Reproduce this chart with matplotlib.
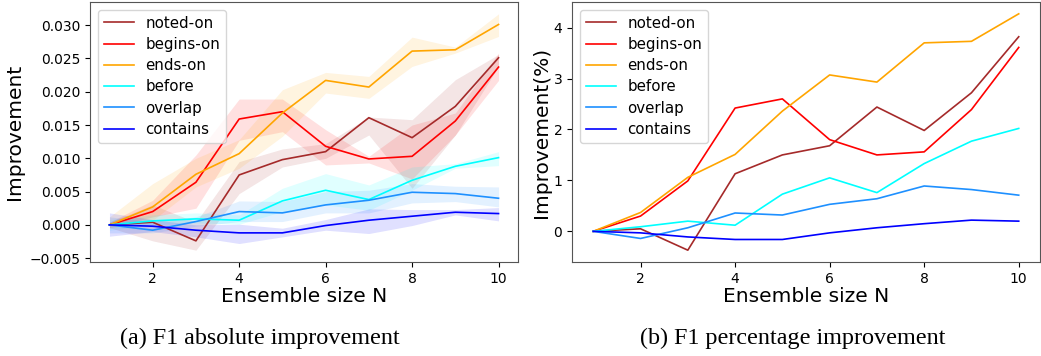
import numpy as np
import matplotlib
matplotlib.use('Agg')
import matplotlib.pyplot as plt

####################
# Data

N = [1, 2, 3, 4, 5, 6, 7, 8, 9, 10]
labels = ['noted-on', 'begins-on', 'ends-on', 'before', 'overlap', 'contains']
colors = ['brown', 'red', 'orange', 'cyan', 'dodgerblue', 'blue']

# (a) absolute improvement: mean, lower, upper
noted_abs    = [0, 0.0004, -0.0024, 0.0075, 0.0098, 0.0110, 0.0161, 0.0131, 0.0178, 0.0251]
noted_lo     = [-0.0004, -0.0024, -0.0038, 0.0047, 0.0087, 0.0100, 0.0135, 0.0055, 0.0135, 0.0238]
noted_hi     = [0.0004, 0.0030, 0.0004, 0.0095, 0.0114, 0.0122, 0.0162, 0.0158, 0.0218, 0.0256]

begins_abs   = [0, 0.0020, 0.0064, 0.0159, 0.0170, 0.0118, 0.0099, 0.0103, 0.0156, 0.0237]
begins_lo    = [-0.0004, 0.0012, 0.0025, 0.0127, 0.0140, 0.0090, 0.0093, 0.0069, 0.0135, 0.0217]
begins_hi    = [0.0004, 0.0037, 0.0105, 0.0189, 0.0189, 0.0143, 0.0103, 0.0150, 0.0168, 0.0258]

ends_abs     = [0, 0.0027, 0.0076, 0.0107, 0.0168, 0.0217, 0.0207, 0.0261, 0.0263, 0.0301]
ends_lo      = [-0.0005, 0.0007, 0.0057, 0.0085, 0.0133, 0.0198, 0.0190, 0.0238, 0.0258, 0.0283]
ends_hi      = [0.0012, 0.0062, 0.0100, 0.0128, 0.0203, 0.0229, 0.0223, 0.0282, 0.0267, 0.0317]

before_abs   = [0, 0.0006, 0.0009, 0.0007, 0.0036, 0.0052, 0.0038, 0.0067, 0.0088, 0.0101]
before_lo    = [-0.0008, 0.0000, 0.0003, 0.0001, 0.0020, 0.0030, 0.0022, 0.0052, 0.0085, 0.0089]
before_hi    = [0.0008, 0.0015, 0.0018, 0.0015, 0.0055, 0.0077, 0.0060, 0.0087, 0.0092, 0.0110]

overlap_abs  = [0, -0.0008, 0.0005, 0.0020, 0.0018, 0.0030, 0.0037, 0.0049, 0.0047, 0.0040]
overlap_lo   = [-0.0012, -0.0012, -0.0002, 0.0005, 0.0005, 0.0018, 0.0018, 0.0033, 0.0035, 0.0027]
overlap_hi   = [0.0012, 0.0005, 0.0012, 0.0036, 0.0035, 0.0050, 0.0052, 0.0062, 0.0058, 0.0057]

contains_abs = [0, -0.0002, -0.0008, -0.0012, -0.0012, -0.0001, 0.0007, 0.0013, 0.0019, 0.0017]
contains_lo  = [-0.0017, -0.0010, -0.0018, -0.0028, -0.0018, -0.0008, -0.0013, -0.0001, 0.0015, 0.0006]
contains_hi  = [0.0018, 0.0008, 0.0000, 0.0001, -0.0005, 0.0008, 0.0024, 0.0023, 0.0023, 0.0026]

# (b) percentage improvement
noted_pct    = [0, 0.05, -0.37, 1.13, 1.50, 1.68, 2.44, 1.98, 2.72, 3.82]
begins_pct   = [0, 0.30, 0.99, 2.42, 2.60, 1.80, 1.50, 1.56, 2.39, 3.61]
ends_pct     = [0, 0.37, 1.06, 1.51, 2.36, 3.07, 2.93, 3.70, 3.73, 4.27]
before_pct   = [0, 0.09, 0.20, 0.12, 0.73, 1.05, 0.76, 1.33, 1.77, 2.02]
overlap_pct  = [0, -0.14, 0.07, 0.36, 0.32, 0.53, 0.64, 0.89, 0.82, 0.71]
contains_pct = [0, -0.03, -0.11, -0.16, -0.16, -0.03, 0.07, 0.15, 0.22, 0.20]

abs_series = [noted_abs, begins_abs, ends_abs, before_abs, overlap_abs, contains_abs]
lo_series  = [noted_lo, begins_lo, ends_lo, before_lo, overlap_lo, contains_lo]
hi_series  = [noted_hi, begins_hi, ends_hi, before_hi, overlap_hi, contains_hi]
pct_series = [noted_pct, begins_pct, ends_pct, before_pct, overlap_pct, contains_pct]

####################
# Plotting

W, H = 1041, 356
fig = plt.figure(figsize=(W/100, H/100), dpi=100)

ax1 = fig.add_axes([90/W, 1-262/H, 428/W, 260/H])
ax2 = fig.add_axes([572/W, 1-262/H, 468/W, 260/H])

for y, lo, hi, lab, c in zip(abs_series, lo_series, hi_series, labels, colors):
    ax1.plot(N, y, color=c, lw=1.2, label=lab)
    ax1.fill_between(N, lo, hi, color=c, alpha=0.12, lw=0)

for y, lab, c in zip(pct_series, labels, colors):
    ax2.plot(N, y, color=c, lw=1.2, label=lab)

for ax in (ax1, ax2):
    ax.set_xticks([2, 4, 6, 8, 10])
    ax.tick_params(labelsize=10)
    ax.set_xlabel('Ensemble size N', fontsize=14.5, labelpad=1)
    ax.legend(loc='upper left', fontsize=10.8, labelspacing=0.42)
    for s in ax.spines.values():
        s.set_color('#555555')

ax1.set_yticks([-0.005, 0, 0.005, 0.010, 0.015, 0.020, 0.025, 0.030])
ax1.set_ylabel('Improvement', fontsize=14.5)
ax2.set_yticks([0, 1, 2, 3, 4])
ax2.set_ylabel('Improvement(%)', fontsize=14.5, labelpad=2)

fig.text(260/W, 1-338/H, '(a) F1 absolute improvement', ha='center', va='center',
         family='Liberation Serif', fontsize=17.4)
fig.text(793/W, 1-338/H, '(b) F1 percentage improvement', ha='center', va='center',
         family='Liberation Serif', fontsize=17.4)

fig.savefig('out.png', dpi=100)
